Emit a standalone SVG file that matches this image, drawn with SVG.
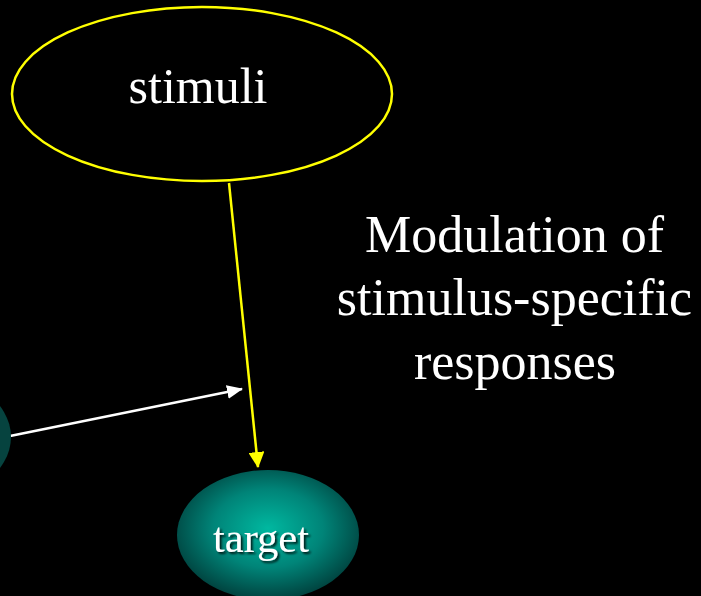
<svg xmlns="http://www.w3.org/2000/svg" width="701" height="596" viewBox="0 0 701 596">
  <defs>
    <radialGradient id="tealGlow" cx="50%" cy="45%" r="55%">
      <stop offset="0" stop-color="#00b8a0"/>
      <stop offset="0.55" stop-color="#008478"/>
      <stop offset="1" stop-color="#00423e"/>
    </radialGradient>
    <filter id="textShadow" x="-10%" y="-20%" width="130%" height="150%">
      <feDropShadow dx="2" dy="2" stdDeviation="0.8" flood-color="#000" flood-opacity="0.8"/>
    </filter>
    <marker id="arrowYellow" markerWidth="16" markerHeight="16" refX="15" refY="8" orient="auto" markerUnits="userSpaceOnUse">
      <path d="M0,0 L16,8 L0,16 Z" fill="#ffff00"/>
    </marker>
    <marker id="arrowWhite" markerWidth="16" markerHeight="14" refX="15" refY="7" orient="auto" markerUnits="userSpaceOnUse">
      <path d="M0,0 L16,7 L0,14 Z" fill="#ffffff"/>
    </marker>
  </defs>
  <style>
    .serif { font-family: "Liberation Serif", "Times New Roman", serif; fill: #ffffff; }
  </style>

  <rect x="0" y="0" width="701" height="596" fill="#000000"/>

  <g id="connectors">
    <line x1="229" y1="183" x2="258" y2="467" stroke="#ffff00" stroke-width="2.5" marker-end="url(#arrowYellow)"/>
    <line x1="10" y1="436" x2="242" y2="389" stroke="#ffffff" stroke-width="2.5" marker-end="url(#arrowWhite)"/>
  </g>

  <g id="stimuli">
    <ellipse cx="202" cy="94" rx="190" ry="87" fill="#000000" stroke="#ffff00" stroke-width="2.5"/>
    <text class="serif" x="198" y="103" font-size="50" text-anchor="middle">stimuli</text>
  </g>

  <g id="source">
    <ellipse cx="-80" cy="437" rx="91" ry="65" fill="#06433f"/>
  </g>

  <g id="target">
    <ellipse cx="268" cy="535" rx="91" ry="65" fill="url(#tealGlow)"/>
    <text class="serif" x="261" y="552" font-size="42.5" text-anchor="middle" filter="url(#textShadow)">target</text>
  </g>

  <g id="caption">
    <text class="serif" font-size="52" text-anchor="middle">
      <tspan x="521" y="252">Modulation of</tspan>
      <tspan x="521" y="315">stimulus-specific</tspan>
      <tspan x="515" y="379">responses</tspan>
    </text>
  </g>
</svg>
